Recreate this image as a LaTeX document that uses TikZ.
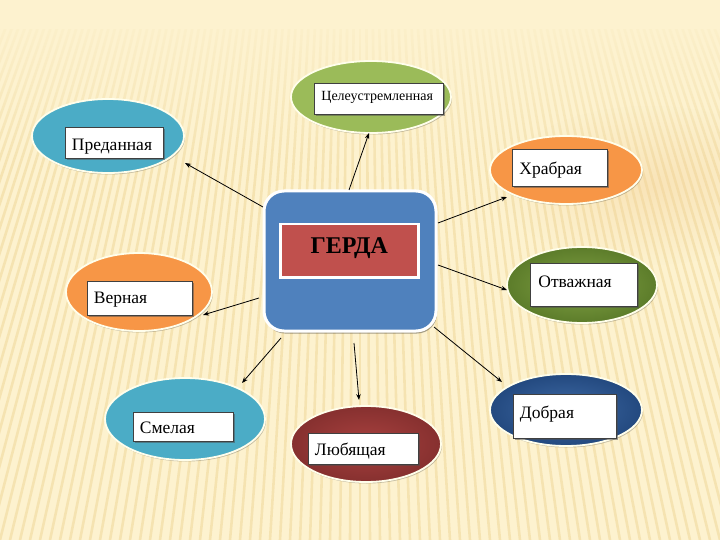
\documentclass[tikz,border=0pt]{standalone}
\usepackage{fontspec}
\setmainfont{Liberation Serif}
\usetikzlibrary{shadows,fadings,arrows.meta,shapes.geometric}
\definecolor{bgcol}{HTML}{FDF2CF}
\definecolor{stripecol}{HTML}{EFD79A}
\definecolor{warmcol}{HTML}{F3CF95}
\definecolor{tealc}{HTML}{4BACC6}
\definecolor{greenc}{HTML}{9BBB59}
\definecolor{orangec}{HTML}{F79646}
\definecolor{oliveIn}{HTML}{82A345}
\definecolor{oliveOut}{HTML}{5C7C2A}
\definecolor{navyIn}{HTML}{3F6AA5}
\definecolor{navyOut}{HTML}{23497F}
\definecolor{wineIn}{HTML}{A8413F}
\definecolor{wineOut}{HTML}{86302F}
\definecolor{boxblue}{HTML}{4F81BD}
\definecolor{boxred}{HTML}{C0504D}
\definecolor{lblborder}{HTML}{404040}
\tikzfading[name=topfade, top color=transparent!0, bottom color=transparent!100]
\tikzfading[name=softedge, inner color=transparent!0, outer color=transparent!100]
\tikzset{
  oval/.style={ellipse, draw=white!92!yellow, line width=1.8pt, inner sep=0pt,
    drop shadow={shadow xshift=1pt, shadow yshift=-1.5pt, fill=black, opacity=0.22}},
  lbl/.style={draw=lblborder, fill=white, line width=0.8pt, inner xsep=6.5pt, inner ysep=0pt,
    align=left, anchor=north west, font=\fontsize{17.5}{18}\selectfont,
    drop shadow={shadow xshift=1.5pt, shadow yshift=-1.5pt, fill=black!70, opacity=0.5}},
  arr/.style={-{Stealth[length=6pt,width=4.5pt]}, line width=0.8pt, black},
  stripe/.style={stripecol, line width=2.6pt, opacity=0.55}
}
\begin{document}
\begin{tikzpicture}[x=1pt,y=-1pt]
\useasboundingbox (0,0) rectangle (720,540);
% background
\fill[bgcol] (0,0) rectangle (720,540);
\begin{scope}
  \clip (0,30) rectangle (720,540);
  \foreach \i in {-720,-710,...,1440} \draw[stripe] (360,-900) -- (\i,540);
\end{scope}
\fill[bgcol, path fading=topfade] (0,0) rectangle (720,170);
\fill[warmcol, path fading=softedge, opacity=0.4] (650,185) ellipse (150 and 80);

% central block
\node[rounded corners=20pt, fill=boxblue, draw=white, line width=3pt,
  minimum width=172pt, minimum height=140pt,
  drop shadow={shadow xshift=1pt, shadow yshift=-2.5pt, fill=black, opacity=0.35}] (center) at (350,261) {};
\node[fill=boxred, draw=white, line width=2.5pt, anchor=north west, inner sep=0pt,
  text width=138pt, align=center, text height=29pt, text depth=24pt,
  font=\fontsize{24}{24}\selectfont\bfseries,
  drop shadow={shadow xshift=1pt, shadow yshift=-1.5pt, fill=black, opacity=0.3}] (gerda) at (279,223) {ГЕРДА};

% ovals
\node[oval, fill=tealc, minimum width=152pt, minimum height=74pt] (o1) at (108,136) {};
\node[oval, fill=greenc, minimum width=160pt, minimum height=72pt] (o2) at (371,97) {};
\node[oval, fill=orangec, minimum width=152pt, minimum height=68pt] (o3) at (566,170) {};
\node[oval, inner color=oliveIn, outer color=oliveOut, minimum width=150pt, minimum height=76pt] (o4) at (582,285) {};
\node[oval, fill=orangec, minimum width=146pt, minimum height=78pt] (o5) at (139,292) {};
\node[oval, fill=tealc, minimum width=160pt, minimum height=82pt] (o6) at (185,419) {};
\node[oval, inner color=wineIn, outer color=wineOut, minimum width=150pt, minimum height=76pt] (o7) at (366,444) {};
\node[oval, inner color=navyIn, outer color=navyOut, minimum width=152pt, minimum height=72pt] (o8) at (566,410) {};

% labels
\node[lbl, text width=85pt, text height=23pt, text depth=8pt] (l1) at (65,127) {Преданная};
\node[lbl, text width=115pt, text height=17pt, text depth=14pt, inner xsep=7pt, font=\fontsize{14}{14}\selectfont] (l2) at (314,83) {Целеустремленная};
\node[lbl, text width=81pt, text height=25pt, text depth=12pt, inner xsep=7pt] (l3) at (512,149) {Храбрая};
\node[lbl, text width=91pt, text height=24pt, text depth=19pt, inner xsep=8pt] (l4) at (530,263) {Отважная};
\node[lbl, text width=92pt, text height=22pt, text depth=12pt] (l5) at (87,281) {Верная};
\node[lbl, text width=87pt, text height=21pt, text depth=8pt] (l6) at (133,412) {Смелая};
\node[lbl, text width=97pt, text height=22pt, text depth=9pt] (l7) at (308,433) {Любящая};
\node[lbl, text width=90pt, text height=24pt, text depth=20pt] (l8) at (513,394) {Добрая};

% connectors
\coordinate (s1) at (263,207); \coordinate (e1) at (185,163);
\coordinate (s2) at (349,190); \coordinate (e2) at (369,133);
\coordinate (s3) at (438,223); \coordinate (e3) at (507,197);
\coordinate (s4) at (438,265); \coordinate (e4) at (507,290);
\coordinate (s5) at (259,298); \coordinate (e5) at (203,315);
\coordinate (s6) at (281,338); \coordinate (e6) at (242,383);
\coordinate (s7) at (354,343); \coordinate (e7) at (359,400);
\coordinate (s8) at (434,327); \coordinate (e8) at (502,382);
\foreach \k in {1,...,8} \draw[arr] (s\k) -- (e\k);
\end{tikzpicture}
\end{document}
